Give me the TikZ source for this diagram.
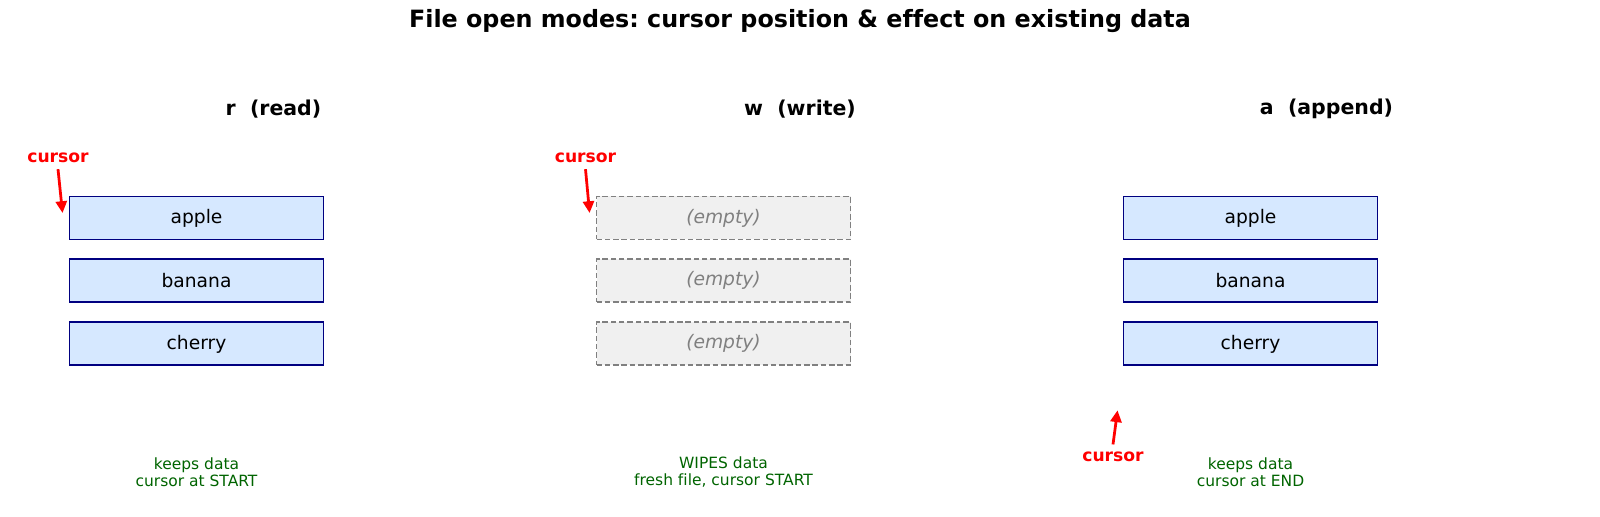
\documentclass[tikz,border=0pt]{standalone}
\usepackage{fontspec}
\setmainfont{DejaVu Sans}[Ligatures=NoCommon]
\usetikzlibrary{positioning, arrows.meta}
\definecolor{cboite}{HTML}{D6E8FF}
\definecolor{cbord}{HTML}{000080}
\definecolor{cvide}{HTML}{F0F0F0}
\definecolor{cnote}{HTML}{006400}
\frenchspacing

\begin{document}
\begin{tikzpicture}[x=0.254mm, y=-0.254mm,
    titre/.style={font=\fontsize{17.2}{20}\selectfont\bfseries},
    mode/.style={font=\fontsize{14.8}{17}\selectfont\bfseries},
    ligne/.style={draw=cbord, fill=cboite, line width=1.4pt, minimum width=2.54in,
      minimum height=0.43in, inner sep=0pt, font=\fontsize{13.5}{15}\selectfont},
    vide/.style={draw=gray, fill=cvide, dash pattern=on 4pt off 2pt, line width=1.3pt,
      minimum width=2.54in, minimum height=0.43in, inner sep=0pt, text=gray,
      font=\fontsize{13.5}{15}\selectfont\itshape},
    curs/.style={text=red, font=\fontsize{12.4}{14}\selectfont\bfseries},
    fleche/.style={-{Triangle[length=8.5pt, width=8pt]}, red, line width=2pt},
    note/.style={text=cnote, align=center, font=\fontsize{11.2}{12}\selectfont}]

  \useasboundingbox (0,0) rectangle (1600,517);
  \node[titre] (titre) at (800,21) {File open modes: cursor position \& effect on existing data};

  % --- r (read) ---
  \node[mode] (hr) at (273.5,109) {r\ \ (read)};
  \node[ligne] (r1) at (196.5,218) {apple};
  \node[ligne, below=0.18in of r1] (r2) {banana};
  \node[ligne, below=0.18in of r2] (r3) {cherry};
  \node[curs] (cr) at (58,158) {cursor};
  \coordinate (pr) at ([shift={(-6,-5)}]r1.west);
  \draw[fleche] ([yshift=-1pt]cr.south) -- (pr);
  \node[note] (nr) at (r3 |- 0,472) {keeps data\\cursor at START};

  % --- w (write) ---
  \node[mode] (hw) at (800,109) {w\ \ (write)};
  \node[vide] (w1) at (723.5,218) {(empty)};
  \node[vide, below=0.18in of w1] (w2) {(empty)};
  \node[vide, below=0.18in of w2] (w3) {(empty)};
  \node[curs] (cw) at (585.5,158) {cursor};
  \coordinate (pw) at ([shift={(-6,-5)}]w1.west);
  \draw[fleche] ([yshift=-1pt]cw.south) -- (pw);
  \node[note] (nw) at (w3 |- 0,472) {WIPES data\\fresh file, cursor START};

  % --- a (append) ---
  \node[mode] (ha) at (1326.5,109) {a\ \ (append)};
  \node[ligne] (a1) at (1250.5,218) {apple};
  \node[ligne, below=0.18in of a1] (a2) {banana};
  \node[ligne, below=0.18in of a2] (a3) {cherry};
  \node[curs] (ca) at (1113,457) {cursor};
  \coordinate (pa) at ([shift={(-5,44)}]a3.south west);
  \draw[fleche] ([yshift=2pt]ca.north) -- (pa);
  \node[note] (na) at (a3 |- 0,472) {keeps data\\cursor at END};
\end{tikzpicture}
\end{document}
